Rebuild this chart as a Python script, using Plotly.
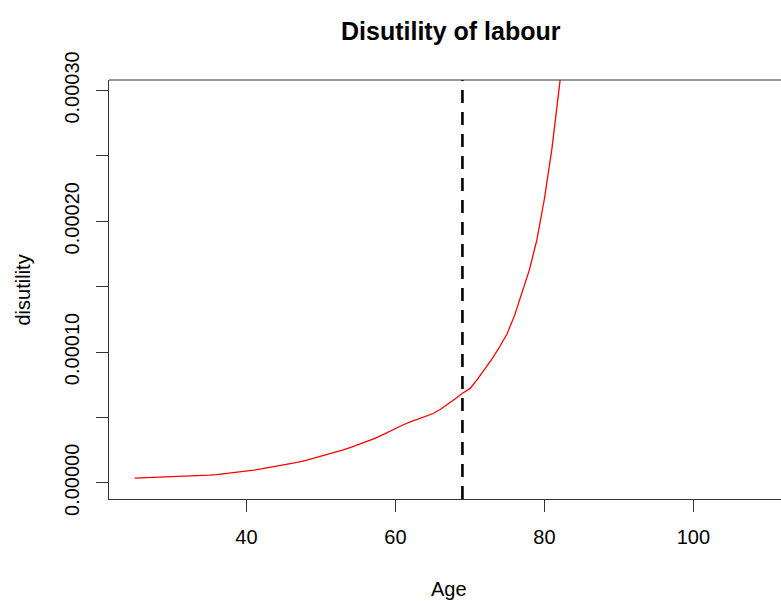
import plotly.graph_objects as go

# Age grid and the disutility of labour at each age
ages = list(range(25, 85))
disutility = [
    3.5e-6, 3.7e-6, 3.9e-6, 4.1e-6, 4.3e-6, 4.5e-6, 4.7e-6, 4.9e-6, 5.1e-6, 5.5e-6,
    5.9e-6, 6.3e-6, 6.9e-6, 7.5e-6, 8.2e-6, 8.9e-6, 9.7e-6, 1.06e-5, 1.16e-5, 1.26e-5,
    1.37e-5, 1.48e-5, 1.58e-5, 1.72e-5, 1.87e-5, 2.02e-5, 2.17e-5, 2.33e-5, 2.51e-5, 2.70e-5,
    2.90e-5, 3.10e-5, 3.34e-5, 3.59e-5, 3.88e-5, 4.15e-5, 4.42e-5, 4.65e-5, 4.88e-5, 5.10e-5,
    5.28e-5, 5.60e-5, 5.98e-5, 6.40e-5, 6.85e-5, 7.20e-5, 7.90e-5, 8.70e-5, 9.50e-5, 1.04e-4,
    1.14e-4, 1.28e-4, 1.45e-4, 1.63e-4, 1.86e-4, 2.17e-4, 2.55e-4, 2.98e-4, 3.50e-4, 4.10e-4,
]

retirement_age = 69

x_ticks = [40, 60, 80, 100]
y_ticks = [0, 5e-5, 1e-4, 1.5e-4, 2e-4, 2.5e-4, 3e-4]
y_tick_text = ["0.00000", "", "0.00010", "", "0.00020", "", "0.00030"]

x_range = [21.56, 111.76]
y_range = [-1.24e-5, 3.08e-4]

FONT = "Liberation Sans, Arial, sans-serif"
AXIS_COLOR = "#333333"

fig = go.Figure()

fig.add_trace(go.Scatter(
    x=ages, y=disutility, mode="lines",
    line=dict(color="#ff0000", width=1.3),
    showlegend=False, hoverinfo="skip",
))

# Vertical dashed marker at the retirement age
fig.add_trace(go.Scatter(
    x=[retirement_age, retirement_age], y=y_range, mode="lines",
    line=dict(color="black", width=2.6, dash="13px,9px"),
    showlegend=False, hoverinfo="skip",
))

W, H = 781, 601
L, R, T, B = 109, 0, 80, 102
pw = W - L - R
ph = H - T - B

fig.update_layout(
    width=W, height=H,
    margin=dict(l=L, r=R, t=T, b=B, pad=0),
    paper_bgcolor="white", plot_bgcolor="white",
    font=dict(family=FONT, size=20, color="black"),
    xaxis=dict(
        range=x_range, tickvals=x_ticks, ticks="outside", ticklen=12,
        tickcolor=AXIS_COLOR, tickwidth=1, showgrid=False, zeroline=False,
        showline=True, linecolor=AXIS_COLOR, linewidth=1,
        tickfont=dict(family=FONT, size=20, color="black"),
        ticklabelstandoff=8,
    ),
    yaxis=dict(
        range=y_range, tickvals=y_ticks, ticktext=y_tick_text,
        ticks="outside", ticklen=12, tickcolor=AXIS_COLOR, tickwidth=1,
        showgrid=False, zeroline=False, showline=True,
        linecolor=AXIS_COLOR, linewidth=1, tickangle=-90,
        tickfont=dict(family=FONT, size=20, color="black"),
        ticklabelstandoff=9,
    ),
    shapes=[dict(
        type="line", xref="paper", yref="paper", x0=0, x1=1, y0=1, y1=1,
        line=dict(color=AXIS_COLOR, width=1),
    )],
    annotations=[
        dict(text="<b>Disutility of labour</b>", xref="paper", yref="paper",
             x=(451 - L) / pw, y=1 + (T - 31) / ph, xanchor="center", yanchor="middle",
             showarrow=False, font=dict(family=FONT, size=25, color="black")),
        dict(text="Age", xref="paper", yref="paper",
             x=(449 - L) / pw, y=-(589 - (H - B)) / ph, xanchor="center", yanchor="middle",
             showarrow=False, font=dict(family=FONT, size=20, color="black")),
        dict(text="disutility", xref="paper", yref="paper", textangle=-90,
             x=-(L - 22) / pw, y=0.5, xanchor="center", yanchor="middle",
             showarrow=False, font=dict(family=FONT, size=20, color="black")),
    ],
)

fig.write_html("out.html")
